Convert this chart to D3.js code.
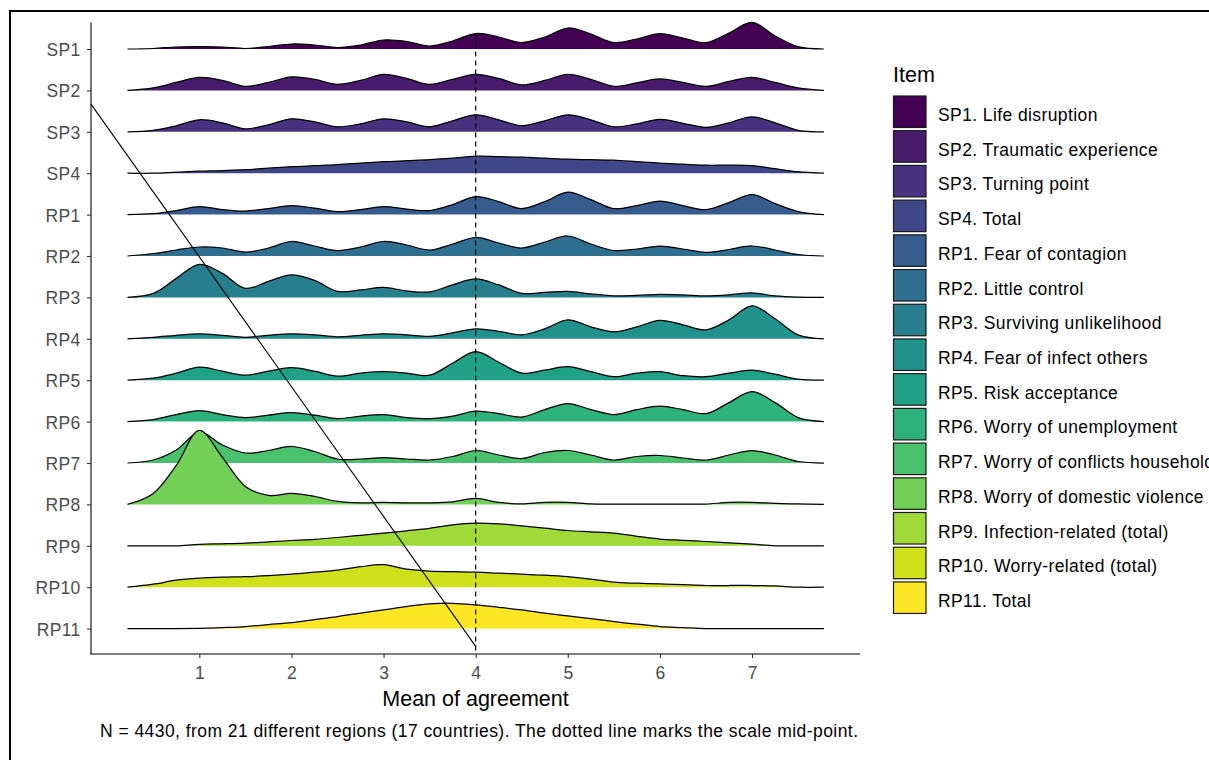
<!DOCTYPE html>
<html>
<head>
<meta charset="utf-8">
<script src="https://cdn.jsdelivr.net/npm/d3@7"></script>
<style>
  html, body { margin: 0; padding: 0; background: #fff; }
  svg { display: block; font-family: "Liberation Sans", Arial, sans-serif; }
</style>
</head>
<body>
<svg id="chart" width="1209" height="760"></svg>
<script>
// ---------------- data ----------------
const categories = ["SP1","SP2","SP3","SP4","RP1","RP2","RP3","RP4","RP5","RP6","RP7","RP8","RP9","RP10","RP11"];
const legendLabels = [
  "SP1. Life disruption",
  "SP2. Traumatic experience",
  "SP3. Turning point",
  "SP4. Total",
  "RP1. Fear of contagion",
  "RP2. Little control",
  "RP3. Surviving unlikelihood",
  "RP4. Fear of infect others",
  "RP5. Risk acceptance",
  "RP6. Worry of unemployment",
  "RP7. Worry of conflicts household",
  "RP8. Worry of domestic violence",
  "RP9. Infection-related (total)",
  "RP10. Worry-related (total)",
  "RP11. Total"
];
const xTicks = [1, 2, 3, 4, 5, 6, 7];
const xGrid = [0.22,0.5,0.75,1,1.25,1.5,1.75,2,2.25,2.5,2.75,3,3.25,3.5,3.75,4,4.25,4.5,4.75,5,5.25,5.5,5.75,6,6.25,6.5,6.75,7,7.25,7.5,7.78];

// estimated (scaled) density heights at xGrid
const SP1  = [0,0.5,2,2.5,2,0.5,2.5,5,4,1.5,4,9,7.5,3,8,15.5,12,6.5,12,21,15,6.5,10,15.3,11,6.3,16,26.7,13,2.3,0];
const SP2  = [0,2.5,8,13,10,4,8,13.5,11,6,10,16,12,6,11,16,12,5.5,10,16,11,4,7.5,11.5,8,4,9,13,8,2.5,0];
const SP3  = [0,1.5,6,12,9,3,7,13,10,5,8,13,10,5,11,17,12,6,11,17,12,5,8,12.5,8.5,4.5,9,15,9,1.5,0];
const SP4  = [0,0,1,2,2.5,3.5,5,6.5,7.5,8.5,10,11.5,12.5,13.5,15,17,16.5,16,15,14,13.5,13,11.5,10,9,8,8,7.5,4.5,1.5,0];
const RP1  = [0,1,4,8,5,3.5,6,9,6.5,3,5,8,5.5,4,10,18,13,6,13,22.5,15,6,9,13.5,9,5,12,20,11,3,0];
const RP2  = [0,2.5,6,9,8,4,8,14.5,10,5.5,9,14.5,11,6,12,18.5,13,8,14,20,12,5.5,7,10,7,3.7,6.5,10,6,1.5,0];
const RP3  = [0,4,19,33,24,9,16,22.5,17,6,7.5,10,6.5,5.5,12.5,18.5,12.5,4,5,6,3.5,1.5,2,3,2.5,1.5,2.5,4.5,1.5,0.3,0];
const RP4  = [0,1.5,3.5,5,3.5,1.5,3.5,5,4,2,3.5,5,4,2.5,6,10,7.5,4,10,19,12,7,12,18.5,14,9,19,33,20,4,0];
const RP5  = [0,2,7,13,9,5,9,12.5,9,4,7,8.5,7,5,17,28.5,18,7,10,13.5,8.5,3.5,7,8.5,4.5,3.5,7,10,6,1,0];
const RP6  = [0,2,7,11,7,4,6.5,9,6.5,3,5.5,7,4,3,5.5,10.5,8,4.5,12,18,12,7,12,15.5,12,8,19,30,19,4,0];
const RP7  = [0,3,13,31,18,10,12.5,16.5,11.5,4,4,5.5,4,3,6.5,12.5,8,4.5,10.5,12.5,8,3,6.5,7.5,5,3,8,12.5,8,1.5,0];
const RP8  = [0,11,39,74,47,18,9,11,8,3,1.5,2,1.5,1.5,2.5,6,2,0.5,2,2,0.5,0.3,0.3,0.3,0.3,0.3,2,2,1,0.5,0];
const RP9  = [0,0,0,1.5,2,2.7,4,5.3,6.5,8.3,10.5,12.7,15,17.5,21,22.7,22,20,17.7,15.3,14,12.7,9.5,6.7,5.5,4.3,3,1.7,0,0,0];
const RP10 = [0,3,7,9,10,10.5,11.5,13,15,17,20.5,22.5,18,16,15.5,15,14,13,12,10.5,8,5,4,3.3,2.5,1.7,1.7,1.7,1.3,0,0];
const RP11 = [0,0,0,0.3,1,2,4,6,9,12,15.5,18.7,22,24.7,25.3,23.7,21.3,18.7,15.5,12.7,10,7,4.5,2,1,0,0,0,0,0,0];
const seriesValues = [SP1,SP2,SP3,SP4,RP1,RP2,RP3,RP4,RP5,RP6,RP7,RP8,RP9,RP10,RP11];

const midPoint = 4;                                   // dashed reference line
const diagStart = { x: -0.176, idx: 1.33 };           // diagonal line (x value, row index)
const diagEnd   = { x: 4,      idx: 14.43 };
const captionText = "N = 4430, from 21 different regions (17 countries). The dotted line marks the scale mid-point.";

// ---------------- drawing ----------------
const svg = d3.select("#chart");
svg.append("rect").attr("width", 1209).attr("height", 760).attr("fill", "#fff");
// outer frame
svg.append("rect").attr("x", 10).attr("y", 11).attr("width", 1400).attr("height", 900)
   .attr("fill", "none").attr("stroke", "#000").attr("stroke-width", 2);

const panel = { left: 91, right: 860, top: 22.5, bottom: 654 };
const x = d3.scaleLinear().domain([-0.176, 8.172]).range([panel.left, panel.right]);
const yCat = d3.scalePoint().domain(categories).range([49, 628.6]);
const yIdx = d3.scaleLinear().domain([0, categories.length - 1]).range([49, 628.6]);
const h = d3.scaleLinear().domain([0, 100]).range([0, 100]);
const colors = d3.quantize(d3.interpolateViridis, categories.length);
const curve = d3.curveCatmullRom.alpha(0.5);

const g = svg.append("g");
categories.forEach((cat, i) => {
  const base = yCat(cat);
  const pts = xGrid.map((xv, j) => ({ x: xv, v: seriesValues[i][j] }));
  const area = d3.area().x(d => x(d.x)).y0(base).y1(d => base - h(d.v)).curve(curve);
  const line = d3.line().x(d => x(d.x)).y(d => base - h(d.v)).curve(curve);
  g.append("path").attr("d", area(pts)).attr("fill", colors[i]).attr("stroke", "none");
  g.append("path").attr("d", line(pts)).attr("fill", "none").attr("stroke", "#000")
    .attr("stroke-width", 1.25).attr("stroke-linejoin", "round");
});

// dashed mid-point line, from the SP1 ridge down to the axis
const sp1AtMid = SP1[xGrid.indexOf(midPoint)];
svg.append("line")
  .attr("x1", x(midPoint)).attr("x2", x(midPoint))
  .attr("y1", yCat("SP1") - h(sp1AtMid)).attr("y2", panel.bottom)
  .attr("stroke", "#000").attr("stroke-width", 1.2).attr("stroke-dasharray", "5,4");

// diagonal line
svg.append("line")
  .attr("x1", x(diagStart.x)).attr("y1", yIdx(diagStart.idx))
  .attr("x2", x(diagEnd.x)).attr("y2", yIdx(diagEnd.idx))
  .attr("stroke", "#000").attr("stroke-width", 1.1);

// axes lines
svg.append("line").attr("x1", panel.left).attr("x2", panel.left).attr("y1", panel.top).attr("y2", panel.bottom + 0.5)
  .attr("stroke", "#000").attr("stroke-width", 1.1);
svg.append("line").attr("x1", panel.left - 0.5).attr("x2", panel.right).attr("y1", panel.bottom).attr("y2", panel.bottom)
  .attr("stroke", "#000").attr("stroke-width", 1.1);

// y axis
const yAxis = svg.append("g").attr("transform", `translate(${panel.left},0)`)
  .call(d3.axisLeft(yCat).tickSize(4).tickSizeOuter(0).tickPadding(6.5));
yAxis.select(".domain").remove();
yAxis.selectAll(".tick line").attr("stroke", "#333").attr("stroke-width", 1.1);
yAxis.selectAll(".tick text").attr("fill", "#4D4D4D").attr("font-size", "17.5px")
  .attr("letter-spacing", "0.3px").attr("dy", "0.37em").attr("font-family", null);

// x axis
const xAxis = svg.append("g").attr("transform", `translate(0,${panel.bottom})`)
  .call(d3.axisBottom(x).tickValues(xTicks).tickFormat(d3.format("d")).tickSize(4).tickSizeOuter(0));
xAxis.select(".domain").remove();
xAxis.selectAll(".tick line").attr("stroke", "#333").attr("stroke-width", 1.1);
xAxis.selectAll(".tick text").attr("fill", "#4D4D4D").attr("font-size", "17.5px")
  .attr("y", 25).attr("dy", null).attr("font-family", null);

// axis title
svg.append("text").attr("x", (panel.left + panel.right) / 2).attr("y", 706)
  .attr("text-anchor", "middle").attr("font-size", "21.5px").attr("fill", "#000")
  .text("Mean of agreement");

// caption
svg.append("text").attr("x", 100).attr("y", 737)
  .attr("font-size", "17.5px").attr("fill", "#000")
  .attr("textLength", 758).attr("lengthAdjust", "spacing")
  .text(captionText);

// legend
const leg = svg.append("g");
leg.append("text").attr("x", 893).attr("y", 82).attr("font-size", "21.5px").attr("fill", "#000").text("Item");
const pitch = 34.71;
legendLabels.forEach((lab, i) => {
  leg.append("rect").attr("x", 893.5).attr("y", 96 + i * pitch).attr("width", 32.5).attr("height", 31.5)
    .attr("fill", colors[i]).attr("stroke", "#1a1a1a").attr("stroke-width", 1.2);
  leg.append("text").attr("x", 938).attr("y", 121 + i * pitch)
    .attr("font-size", "17.5px").attr("letter-spacing", "0.4px").attr("fill", "#000").text(lab);
});
</script>
</body>
</html>
